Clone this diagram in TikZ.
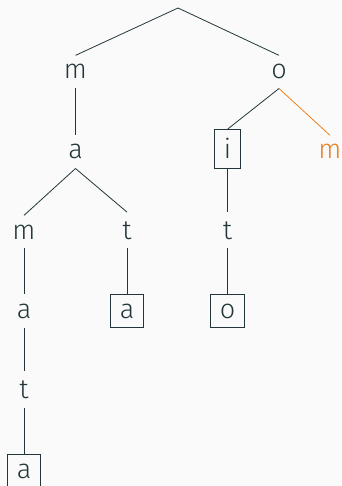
\documentclass[tikz,border=0pt]{standalone}
\usepackage{fontspec}
\setmainfont{Fira Sans Light}
\definecolor{fgdark}{HTML}{23373B}
\definecolor{accent}{HTML}{EB811B}
\definecolor{bgpaper}{HTML}{FAFAFA}
\begin{document}
\begin{tikzpicture}[x=1pt,y=-1pt,
  every node/.style={anchor=base,inner sep=9pt,text=fgdark,font=\fontsize{27}{32}\selectfont},
  leaf/.style={draw=fgdark,line width=0.9pt},
  edge/.style={draw=fgdark,line width=0.8pt},
  hot/.style={text=accent}]
\fill[bgpaper] (0,0) rectangle (341,486);
\useasboundingbox (0,0) rectangle (341,486);
% root of the trie
\coordinate (r) at (178,8);
% first level
\node (m1) at (75.5,79) {m};
\node (o1) at (279,79) {o};
% second level
\node (a2) at (75.5,159) {a};
\node[leaf] (i2) at (227.5,159) {i};
\node[hot] (m2) at (330,159) {m};
% third level
\node (m3) at (24,239) {m};
\node (t3) at (127,239) {t};
\node (t3b) at (227.5,239) {t};
% fourth level
\node (a4) at (24,318) {a};
\node[leaf] (a4b) at (127,318) {a};
\node[leaf] (o4) at (227.5,318) {o};
% deeper branch
\node (t5) at (24,398) {t};
\node[leaf] (a6) at (24,478) {a};
% connectors
\draw[edge] (r) -- (m1.north);
\draw[edge] (r) -- (o1.north);
\draw[edge] (m1.south) -- (a2.north);
\draw[edge] (o1.south) -- (i2.north);
\draw[draw=accent,line width=0.8pt] (o1.south) -- (m2.north);
\draw[edge] (a2.south) -- (m3.north);
\draw[edge] (a2.south) -- (t3.north);
\draw[edge] (i2.south) -- (t3b.north);
\draw[edge] (m3.south) -- (a4.north);
\draw[edge] (t3.south) -- (a4b.north);
\draw[edge] (t3b.south) -- (o4.north);
\draw[edge] (a4.south) -- (t5.north);
\draw[edge] (t5.south) -- (a6.north);
\end{tikzpicture}
\end{document}
